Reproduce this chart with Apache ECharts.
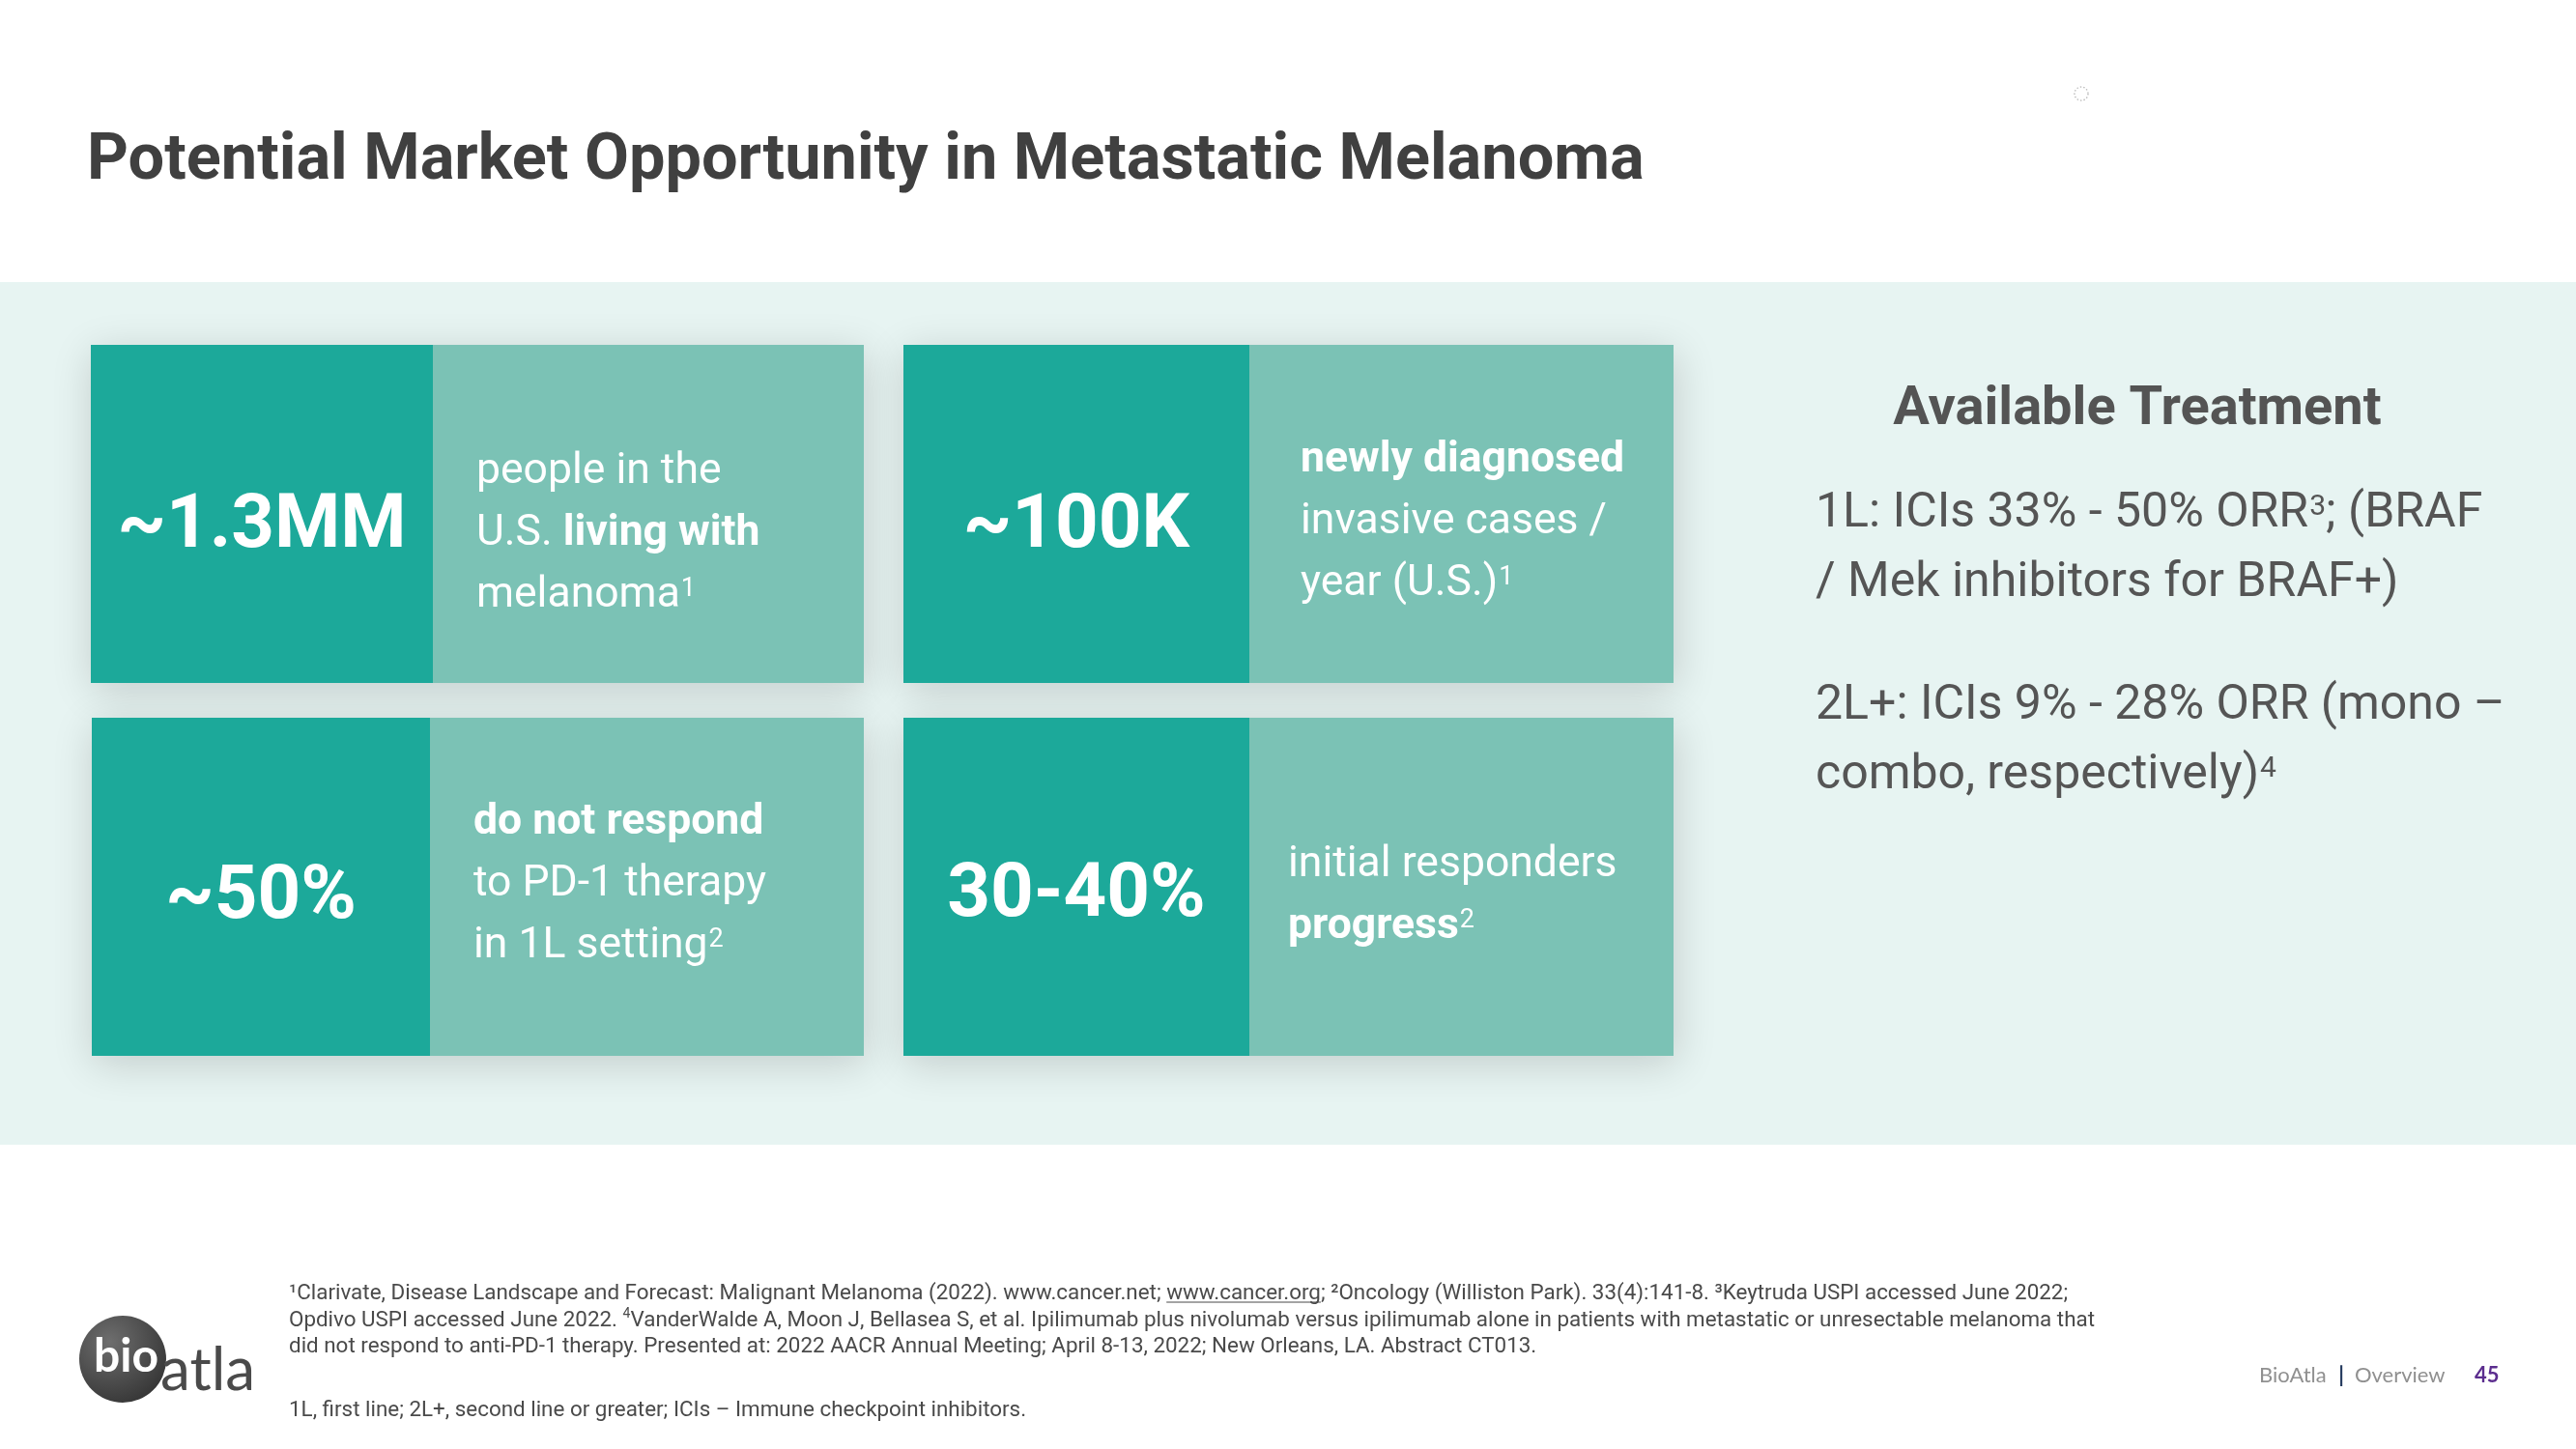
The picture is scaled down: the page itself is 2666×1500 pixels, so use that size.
<!DOCTYPE html>
<html>
<head>
<meta charset="utf-8">
<script src="https://cdn.jsdelivr.net/npm/echarts@6/dist/echarts.min.js"></script>
<style>
html,body{margin:0;padding:0;background:#ffffff;}
#chart{width:2666px;height:1500px;}
</style>
</head>
<body>
<div id="chart"></div>
<script>
// ---------------- content ----------------
const titleText = 'Potential Market Opportunity in Metastatic Melanoma';
const statValues = ['~1.3MM', '~100K', '~50%', '30-40%'];
const statDescriptions = [
  '{r|people in the}\n{r|U.S. }{b|living with}\n{r|melanoma}{s|1}',
  '{b|newly diagnosed}\n{r|invasive cases /}\n{r|year (U.S.)}{s|1}',
  '{b|do not respond}\n{r|to PD-1 therapy}\n{r|in 1L setting}{s|2}',
  '{r|initial responders}\n{b|progress}{s|2}'
];
const treatmentHeading = 'Available Treatment';
const treatmentItems = [
  '{r|1L: ICIs 33% - 50% ORR}{s|3}{r|; (BRAF}\n{r|/ Mek inhibitors for BRAF+)}',
  '{r|2L+: ICIs 9% - 28% ORR (mono \u2013}\n{r|combo, respectively)}{s|4}'
];
const footnoteLines = [
  '\u00b9Clarivate, Disease Landscape and Forecast: Malignant Melanoma (2022). www.cancer.net; www.cancer.org; \u00b2Oncology (Williston Park). 33(4):141-8. \u00b3Keytruda USPI accessed June 2022;',
  'Opdivo USPI accessed June 2022. {s|4}VanderWalde A, Moon J, Bellasea S, et al. Ipilimumab plus nivolumab versus ipilimumab alone in patients with metastatic or unresectable melanoma that',
  'did not respond to anti-PD-1 therapy. Presented at: 2022 AACR Annual Meeting; April 8-13, 2022; New Orleans, LA. Abstract CT013.',
  '1L, first line; 2L+, second line or greater; ICIs \u2013 Immune checkpoint inhibitors.'
];
const underlinedLink = 'www.cancer.org';
const underlinePrefix = '\u00b9Clarivate, Disease Landscape and Forecast: Malignant Melanoma (2022). www.cancer.net; ';
const footerParts = ['BioAtla', '|', 'Overview', '45'];
const logoParts = ['bio', 'atla'];

// ---------------- layout / style ----------------
const FONT = 'Roboto';
const DARK = '#1ca99a';
const LIGHT = '#7bc2b5';
const boxLayout = [
  { x: 94,  y: 357, w: 800, h: 350, dw: 354, numY: 546, descX: 493,  descY: 489 },
  { x: 935, y: 357, w: 797, h: 350, dw: 358, numY: 546, descX: 1346, descY: 477 },
  { x: 95,  y: 743, w: 799, h: 350, dw: 350, numY: 930, descX: 490,  descY: 852 },
  { x: 935, y: 743, w: 797, h: 350, dw: 358, numY: 928, descX: 1333, descY: 896 }
];

const graphics = [];

// light band
graphics.push({ type: 'rect', shape: { x: 0, y: 292, width: 2666, height: 893 }, style: { fill: '#e7f4f2' }, z: 0 });

// title
graphics.push({
  type: 'text', z: 5,
  style: { text: titleText, x: 90, y: 168, fontFamily: FONT, fontWeight: 700, fontSize: 66.7, fill: '#404040',
           align: 'left', verticalAlign: 'middle', textAlign: 'left', textVerticalAlign: 'middle' }
});

// small spinner ring
graphics.push({ type: 'circle', shape: { cx: 2154, cy: 97, r: 7 }, style: { fill: 'none', stroke: '#bdbdbd', lineWidth: 1.4, lineDash: [1.5, 2] }, z: 5 });

const descRich = {
  r: { fontFamily: FONT, fontSize: 44.5, fontWeight: 400, fill: '#ffffff', lineHeight: 64 },
  b: { fontFamily: FONT, fontSize: 44.5, fontWeight: 700, fill: '#ffffff', lineHeight: 64 },
  s: { fontFamily: FONT, fontSize: 27, fontWeight: 400, fill: '#ffffff', verticalAlign: 'top', padding: [12, 0, 0, 1] }
};

statValues.forEach(function (val, i) {
  const L = boxLayout[i];
  graphics.push({ type: 'rect', z: 2, shape: { x: L.x, y: L.y, width: L.w, height: L.h },
    style: { fill: LIGHT, shadowBlur: 40, shadowColor: 'rgba(0,0,0,0.16)', shadowOffsetX: 2, shadowOffsetY: 8 } });
  graphics.push({ type: 'rect', z: 3, shape: { x: L.x, y: L.y, width: L.dw, height: L.h }, style: { fill: DARK } });
  graphics.push({ type: 'text', z: 4,
    style: { text: val, x: L.x + L.dw / 2, y: L.numY, fontFamily: FONT, fontWeight: 700, fontSize: 78, fill: '#ffffff',
             align: 'center', verticalAlign: 'middle', textAlign: 'center', textVerticalAlign: 'middle' } });
  graphics.push({ type: 'text', z: 4,
    style: { text: statDescriptions[i], x: L.descX, y: L.descY - 32, rich: descRich,
             fontFamily: FONT, fontSize: 44.5, fill: '#ffffff', lineHeight: 64,
             align: 'left', verticalAlign: 'top', textAlign: 'left', textVerticalAlign: 'top' } });
});

// right panel
graphics.push({ type: 'text', z: 4,
  style: { text: treatmentHeading, x: 2212, y: 425, fontFamily: FONT, fontWeight: 700, fontSize: 56, fill: '#545454',
           align: 'center', verticalAlign: 'middle', textAlign: 'center', textVerticalAlign: 'middle' } });
const trRich = {
  r: { fontFamily: FONT, fontSize: 50, fontWeight: 400, fill: '#555555', lineHeight: 72 },
  s: { fontFamily: FONT, fontSize: 30, fontWeight: 400, fill: '#555555', verticalAlign: 'top', padding: [14, 0, 0, 1] }
};
const trTop = [532, 731];
treatmentItems.forEach(function (t, i) {
  graphics.push({ type: 'text', z: 4,
    style: { text: t, x: 1879, y: trTop[i] - 36, rich: trRich, fontFamily: FONT, fontSize: 50, lineHeight: 72,
             align: 'left', verticalAlign: 'top', textAlign: 'left', textVerticalAlign: 'top' } });
});

// footnotes
const FN_SIZE = 22.4;
const fnY = [1339, 1367, 1394, 1460];
const fnRich = { s: { fontFamily: FONT, fontSize: 14, fill: '#4a4a4a', lineHeight: 20, verticalAlign: 'top' } };
footnoteLines.forEach(function (t, i) {
  graphics.push({ type: 'text', z: 4,
    style: { text: t, x: 299, y: fnY[i] - 14, fontFamily: FONT, fontSize: FN_SIZE, fill: '#4a4a4a', lineHeight: 28, rich: fnRich,
             align: 'left', verticalAlign: 'top', textAlign: 'left', textVerticalAlign: 'top' } });
});
// underline of link (measured with the same font)
(function () {
  const cv = document.createElement('canvas').getContext('2d');
  cv.font = '400 ' + FN_SIZE + 'px ' + FONT;
  const x0 = 299 + cv.measureText(underlinePrefix).width;
  const w = cv.measureText(underlinedLink).width;
  const uy = fnY[0] + 9;
  graphics.push({ type: 'line', z: 4, shape: { x1: x0, y1: uy, x2: x0 + w, y2: uy }, style: { stroke: '#4a4a4a', lineWidth: 1.2 } });
})();

// logo
graphics.push({ type: 'circle', z: 4, shape: { cx: 127, cy: 1407, r: 45 },
  style: { fill: { type: 'radial', x: 0.35, y: 0.3, r: 0.8, colorStops: [{ offset: 0, color: '#6e6e6e' }, { offset: 1, color: '#333333' }] } } });
graphics.push({ type: 'text', z: 5,
  style: { text: logoParts[0], x: 97, y: 1405, fontFamily: 'Lato', fontWeight: 700, fontSize: 48, fill: '#ffffff',
           align: 'left', verticalAlign: 'middle', textAlign: 'left', textVerticalAlign: 'middle' } });
graphics.push({ type: 'text', z: 5,
  style: { text: logoParts[1], x: 166, y: 1419, fontFamily: 'Lato', fontWeight: 400, fontSize: 62, fill: '#4a4a4a',
           align: 'left', verticalAlign: 'middle', textAlign: 'left', textVerticalAlign: 'middle' } });

// footer
const footX = [2338, 2423, 2437, 2561];
const footColor = ['#909090', '#243a5e', '#909090', '#5b2d8e'];
const footWeight = [400, 700, 400, 700];
footerParts.forEach(function (t, i) {
  graphics.push({ type: 'text', z: 5,
    style: { text: t, x: footX[i], y: 1424, fontFamily: 'Lato', fontWeight: footWeight[i], fontSize: 22, fill: footColor[i],
             align: i === 1 ? 'center' : 'left', verticalAlign: 'middle', textAlign: i === 1 ? 'center' : 'left', textVerticalAlign: 'middle' } });
});

const chart = echarts.init(document.getElementById('chart'), null, { renderer: 'canvas', width: 2666, height: 1500 });
chart.setOption({
  backgroundColor: '#ffffff',
  animation: false,
  graphic: { elements: graphics }
});
</script>
</body>
</html>
